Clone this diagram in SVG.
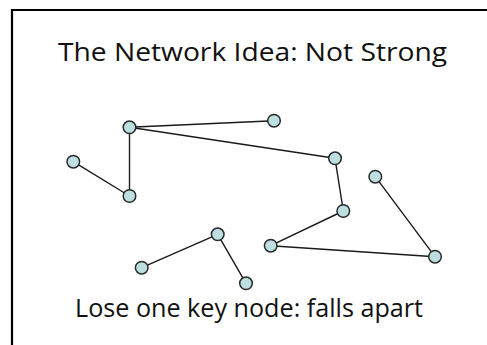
<svg xmlns="http://www.w3.org/2000/svg" width="487" height="345" viewBox="0 0 487 345">
<style>
.frame{fill:none;stroke:#000;stroke-width:2.2}
.edge{stroke:#1a1a1a;stroke-width:1.4;fill:none}
.node circle{fill:#bddfe1;stroke:#2a2a2a;stroke-width:1.5}
.t{font-family:"Open Sans","Noto Sans",sans-serif;font-size:25px;fill:#111;text-anchor:middle}
</style>
<rect width="487" height="345" fill="#fff"/>
<path class="frame" d="M12 345 V10 H487"/>
<text class="t" x="252.5" y="61" textLength="389" lengthAdjust="spacingAndGlyphs">The Network Idea: Not Strong</text>
<g id="connectors">
<line class="edge" x1="129.5" y1="127.3" x2="274" y2="120.7"/>
<line class="edge" x1="129.5" y1="127.3" x2="335" y2="158.3"/>
<line class="edge" x1="129.5" y1="127.3" x2="129.5" y2="196"/>
<line class="edge" x1="73.3" y1="161.7" x2="129.5" y2="196"/>
<line class="edge" x1="335" y1="158.3" x2="343.3" y2="211"/>
<line class="edge" x1="343.3" y1="211" x2="270.7" y2="245.7"/>
<line class="edge" x1="270.7" y1="245.7" x2="435" y2="256.7"/>
<line class="edge" x1="375.3" y1="176.7" x2="435" y2="256.7"/>
<line class="edge" x1="141.7" y1="267.7" x2="217.7" y2="234.3"/>
<line class="edge" x1="217.7" y1="234.3" x2="246" y2="283.3"/>
</g>
<g id="nA" class="node"><circle cx="129.5" cy="127.3" r="6.3"/></g>
<g id="nB" class="node"><circle cx="274" cy="120.7" r="6.3"/></g>
<g id="nC" class="node"><circle cx="73.3" cy="161.7" r="6.3"/></g>
<g id="nD" class="node"><circle cx="129.5" cy="196" r="6.3"/></g>
<g id="nE" class="node"><circle cx="335" cy="158.3" r="6.3"/></g>
<g id="nF" class="node"><circle cx="375.3" cy="176.7" r="6.3"/></g>
<g id="nG" class="node"><circle cx="343.3" cy="211" r="6.3"/></g>
<g id="nH" class="node"><circle cx="217.7" cy="234.3" r="6.3"/></g>
<g id="nI" class="node"><circle cx="270.7" cy="245.7" r="6.3"/></g>
<g id="nJ" class="node"><circle cx="141.7" cy="267.7" r="6.3"/></g>
<g id="nK" class="node"><circle cx="246" cy="283.3" r="6.3"/></g>
<g id="nL" class="node"><circle cx="435" cy="256.7" r="6.3"/></g>
<text class="t" x="249" y="316.5" textLength="348" lengthAdjust="spacingAndGlyphs">Lose one key node: falls apart</text>
</svg>
